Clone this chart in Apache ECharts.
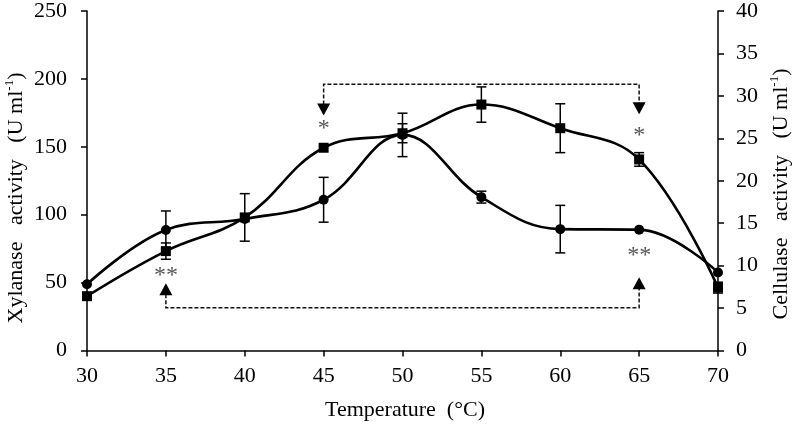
<!DOCTYPE html>
<html>
<head>
<meta charset="utf-8">
<script src="https://cdn.jsdelivr.net/npm/echarts@6/dist/echarts.min.js"></script>
<style>
html,body{margin:0;padding:0;background:#fff;}
#chart{width:796px;height:424px;}
</style>
</head>
<body>
<div id="chart"></div>
<script>
// ---- data ----
const temps = [30, 35, 40, 45, 50, 55, 60, 65, 70];
// Xylanase activity (U ml-1), left axis  (square markers)
const xylanase    = [40, 73.2, 98, 149.3, 160, 181.1, 163.7, 140.7, 46.3];
const xylanaseErr = [0, 6, 17.5, 0, 7, 13, 18, 5, 4];
// Cellulase activity (U ml-1), right axis (circle markers)
const cellulase    = [7.8, 14.2, 15.5, 17.76, 25.4, 18.07, 14.3, 14.24, 9.2];
const cellulaseErr = [0, 2.24, 0, 2.64, 2.56, 0.7, 2.8, 0, 0];

const xTicks = [30, 35, 40, 45, 50, 55, 60, 65, 70];
const leftTicks = [0, 50, 100, 150, 200, 250];
const rightTicks = [0, 5, 10, 15, 20, 25, 30, 35, 40];

// significance brackets (left-axis units)
const topBracketX = [45, 65];
const topBracketY = 196;
const topArrowTipY = [173, 174];
const bottomBracketX = [35, 65];
const bottomBracketY = 31.5;
const bottomArrowTipY = [49.5, 54];

// significance stars (left-axis units)
const starX = [45, 35, 65, 65];
const starY = [167, 59, 162, 73.2];
const starText = ['*', '**', '*', '**'];

// ---- chart ----
const FONT = 'Liberation Serif';
const chart = echarts.init(document.getElementById('chart'), null, {renderer: 'canvas'});

function errRender(params, api) {
  const x = api.value(0), y = api.value(1), e = api.value(2);
  if (!e) return null;
  const t = api.coord([x, y + e]);
  const b = api.coord([x, y - e]);
  const hw = 5;
  const st = {stroke: '#000', lineWidth: 1.5};
  return {
    type: 'group',
    children: [
      {type: 'line', shape: {x1: t[0], y1: t[1], x2: b[0], y2: b[1]}, style: st},
      {type: 'line', shape: {x1: t[0] - hw, y1: t[1], x2: t[0] + hw, y2: t[1]}, style: st},
      {type: 'line', shape: {x1: b[0] - hw, y1: b[1], x2: b[0] + hw, y2: b[1]}, style: st}
    ]
  };
}

function bracketRender(xs, lineY, tips, down) {
  return function (params, api) {
    const dash = {stroke: '#111', lineWidth: 1.5, lineDash: [4, 2], fill: null};
    const p0 = api.coord([xs[0], lineY]);
    const p1 = api.coord([xs[1], lineY]);
    const t0 = api.coord([xs[0], tips[0]]);
    const t1 = api.coord([xs[1], tips[1]]);
    const ah = 12, aw = 6.5;
    const dir = down ? 1 : -1;
    const b0 = t0[1] - dir * ah, b1 = t1[1] - dir * ah;
    const children = [
      {type: 'polyline', shape: {points: [[t0[0], b0 + dir], [p0[0], p0[1]], [p1[0], p1[1]], [t1[0], b1 + dir]]}, style: dash},
      {type: 'polygon', shape: {points: [[t0[0] - aw, b0], [t0[0] + aw, b0], [t0[0], t0[1]]]}, style: {fill: '#000'}},
      {type: 'polygon', shape: {points: [[t1[0] - aw, b1], [t1[0] + aw, b1], [t1[0], t1[1]]]}, style: {fill: '#000'}}
    ];
    return {type: 'group', children: children};
  };
}

const titleRich = {
  n: {fontFamily: FONT, fontSize: 22, fill: '#000', lineHeight: 24, verticalAlign: 'bottom'},
  s: {fontFamily: FONT, fontSize: 13, fill: '#000', lineHeight: 24, verticalAlign: 'top'}
};

const option = {
  animation: false,
  backgroundColor: '#fff',
  grid: {left: 87, right: 78, top: 11, bottom: 73.5, containLabel: false},
  xAxis: {
    type: 'value', min: xTicks[0], max: xTicks[xTicks.length - 1], interval: 5,
    axisLine: {show: true, onZero: false, lineStyle: {color: '#000', width: 1.5}},
    axisTick: {show: true, length: 6, lineStyle: {color: '#000', width: 1.5}},
    axisLabel: {color: '#000', fontFamily: FONT, fontSize: 22, margin: 15},
    splitLine: {show: false}
  },
  yAxis: [
    {
      type: 'value', min: leftTicks[0], max: leftTicks[leftTicks.length - 1], interval: 50,
      position: 'left',
      axisLine: {show: true, lineStyle: {color: '#000', width: 1.5}},
      axisTick: {show: true, length: 6, lineStyle: {color: '#000', width: 1.5}},
      axisLabel: {color: '#000', fontFamily: FONT, fontSize: 22, margin: 20},
      splitLine: {show: false}
    },
    {
      type: 'value', min: rightTicks[0], max: rightTicks[rightTicks.length - 1], interval: 5,
      position: 'right',
      axisLine: {show: true, lineStyle: {color: '#000', width: 1.5}},
      axisTick: {show: true, length: 6, lineStyle: {color: '#000', width: 1.5}},
      axisLabel: {color: '#000', fontFamily: FONT, fontSize: 22, margin: 18},
      splitLine: {show: false}
    }
  ],
  series: [
    {
      name: 'Xylanase', type: 'line', yAxisIndex: 0, smooth: 0.4,
      data: temps.map((t, i) => [t, xylanase[i]]),
      symbol: 'rect', symbolSize: 10,
      itemStyle: {color: '#000'},
      lineStyle: {color: '#000', width: 2.6}, z: 3
    },
    {
      name: 'Cellulase', type: 'line', yAxisIndex: 1, smooth: 0.4,
      data: temps.map((t, i) => [t, cellulase[i]]),
      symbol: 'circle', symbolSize: 10,
      itemStyle: {color: '#000'},
      lineStyle: {color: '#000', width: 2.6}, z: 3
    },
    {
      type: 'custom', yAxisIndex: 0, renderItem: errRender, encode: {x: 0, y: 1}, z: 2,
      data: temps.map((t, i) => [t, xylanase[i], xylanaseErr[i]])
    },
    {
      type: 'custom', yAxisIndex: 1, renderItem: errRender, encode: {x: 0, y: 1}, z: 2,
      data: temps.map((t, i) => [t, cellulase[i], cellulaseErr[i]])
    },
    {
      type: 'custom', yAxisIndex: 0, z: 1, encode: {x: 0, y: 1},
      renderItem: bracketRender(topBracketX, topBracketY, topArrowTipY, true),
      data: [[topBracketX[0], topBracketY]]
    },
    {
      type: 'custom', yAxisIndex: 0, z: 1, encode: {x: 0, y: 1},
      renderItem: bracketRender(bottomBracketX, bottomBracketY, bottomArrowTipY, false),
      data: [[bottomBracketX[0], bottomBracketY]]
    },
    {
      type: 'custom', yAxisIndex: 0, z: 4, encode: {x: 0, y: 1},
      data: starX.map((x, i) => [x, starY[i], i]),
      renderItem: function (params, api) {
        const p = api.coord([api.value(0), api.value(1)]);
        return {
          type: 'text', x: p[0], y: p[1] + 5,
          style: {text: starText[api.value(2)], fontFamily: FONT, fontSize: 24, fill: '#555',
                  align: 'center', verticalAlign: 'middle'}
        };
      }
    }
  ],
  graphic: [
    {
      type: 'text', x: 405, y: 410,
      style: {text: 'Temperature  (°C)', fontFamily: FONT, fontSize: 22, fill: '#000',
              align: 'center', verticalAlign: 'middle'}
    },
    {
      type: 'text', x: 15, y: 198, rotation: Math.PI / 2,
      style: {
        text: '{n|Xylanase   activity   (U ml}{s|-1}{n|)}',
        align: 'center', verticalAlign: 'middle', fill: '#000', rich: titleRich
      }
    },
    {
      type: 'text', x: 780, y: 194, rotation: Math.PI / 2,
      style: {
        text: '{n|Cellulase   activity   (U ml}{s|-1}{n|)}',
        align: 'center', verticalAlign: 'middle', fill: '#000', rich: titleRich
      }
    }
  ]
};
chart.setOption(option);
</script>
</body>
</html>
